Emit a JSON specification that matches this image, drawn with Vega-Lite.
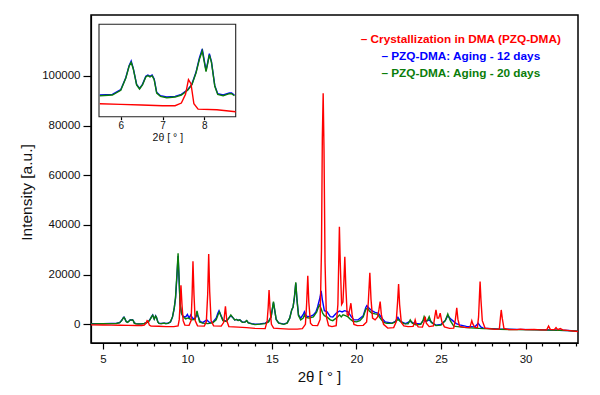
{
"$schema": "https://vega.github.io/schema/vega-lite/v6.json",
"width": 487, "height": 328,
"padding": {"left": 91, "top": 15, "right": 22, "bottom": 52},
"autosize": {"type": "none"},
"background": "white",
"config": {"view": {"stroke": "#000", "strokeWidth": 1.5}, "font": "Liberation Sans",
  "axis": {"grid": false, "domainColor": "#000", "tickColor": "#000", "labelColor": "#111", "titleColor": "#111", "titleFontWeight": "normal", "domainWidth": 1.2, "tickWidth": 1.2}},
"datasets": {"xrd": [
{"s":"r","x":4.3,"y":-200},{"s":"r","x":5.0,"y":-250},{"s":"r","x":5.5,"y":-300},{"s":"r","x":6.0,"y":-350},{"s":"r","x":6.5,"y":-400},{"s":"r","x":7.0,"y":-450},{"s":"r","x":7.3,"y":-450},{"s":"r","x":7.45,"y":-250},{"s":"r","x":7.55,"y":400},{"s":"r","x":7.62,"y":1500},{"s":"r","x":7.68,"y":1200},{"s":"r","x":7.75,"y":-300},{"s":"r","x":7.85,"y":-700},{"s":"r","x":8.3,"y":-750},{"s":"r","x":8.75,"y":-900},{"s":"r","x":9.2,"y":-900},{"s":"r","x":9.45,"y":-600},{"s":"r","x":9.52,"y":2000},{"s":"r","x":9.58,"y":10000},{"s":"r","x":9.62,"y":15700},{"s":"r","x":9.68,"y":8000},{"s":"r","x":9.75,"y":1500},{"s":"r","x":9.85,"y":-300},{"s":"r","x":10.1,"y":-400},{"s":"r","x":10.22,"y":1500},{"s":"r","x":10.28,"y":12000},{"s":"r","x":10.33,"y":25400},{"s":"r","x":10.39,"y":12000},{"s":"r","x":10.46,"y":1500},{"s":"r","x":10.6,"y":-600},{"s":"r","x":11.0,"y":-700},{"s":"r","x":11.12,"y":1000},{"s":"r","x":11.2,"y":12000},{"s":"r","x":11.26,"y":28300},{"s":"r","x":11.32,"y":13000},{"s":"r","x":11.4,"y":1500},{"s":"r","x":11.55,"y":-600},{"s":"r","x":12.0,"y":-700},{"s":"r","x":12.15,"y":800},{"s":"r","x":12.25,"y":7300},{"s":"r","x":12.33,"y":1500},{"s":"r","x":12.45,"y":-900},{"s":"r","x":13.0,"y":-1100},{"s":"r","x":13.5,"y":-1300},{"s":"r","x":14.0,"y":-1600},{"s":"r","x":14.6,"y":-1700},{"s":"r","x":14.72,"y":1500},{"s":"r","x":14.78,"y":7000},{"s":"r","x":14.83,"y":13850},{"s":"r","x":14.89,"y":6000},{"s":"r","x":14.97,"y":0},{"s":"r","x":15.1,"y":-1500},{"s":"r","x":15.5,"y":-1700},{"s":"r","x":16.0,"y":-1900},{"s":"r","x":16.5,"y":-1900},{"s":"r","x":16.8,"y":-1700},{"s":"r","x":16.98,"y":0},{"s":"r","x":17.05,"y":8000},{"s":"r","x":17.12,"y":19600},{"s":"r","x":17.18,"y":9000},{"s":"r","x":17.28,"y":500},{"s":"r","x":17.4,"y":-400},{"s":"r","x":17.7,"y":-500},{"s":"r","x":17.85,"y":2000},{"s":"r","x":17.93,"y":30000},{"s":"r","x":17.98,"y":75000},{"s":"r","x":18.03,"y":93000},{"s":"r","x":18.08,"y":70000},{"s":"r","x":18.14,"y":25000},{"s":"r","x":18.22,"y":3000},{"s":"r","x":18.35,"y":-500},{"s":"r","x":18.55,"y":-900},{"s":"r","x":18.8,"y":-500},{"s":"r","x":18.9,"y":8000},{"s":"r","x":18.95,"y":25000},{"s":"r","x":18.99,"y":39300},{"s":"r","x":19.04,"y":25000},{"s":"r","x":19.12,"y":8000},{"s":"r","x":19.2,"y":9000},{"s":"r","x":19.26,"y":18000},{"s":"r","x":19.31,"y":27250},{"s":"r","x":19.37,"y":15000},{"s":"r","x":19.45,"y":4000},{"s":"r","x":19.52,"y":3500},{"s":"r","x":19.6,"y":6000},{"s":"r","x":19.67,"y":8500},{"s":"r","x":19.74,"y":4000},{"s":"r","x":19.85,"y":0},{"s":"r","x":20.05,"y":-500},{"s":"r","x":20.4,"y":-400},{"s":"r","x":20.6,"y":1000},{"s":"r","x":20.7,"y":9000},{"s":"r","x":20.79,"y":20800},{"s":"r","x":20.86,"y":10000},{"s":"r","x":20.95,"y":2500},{"s":"r","x":21.1,"y":1800},{"s":"r","x":21.25,"y":3000},{"s":"r","x":21.33,"y":6000},{"s":"r","x":21.4,"y":9150},{"s":"r","x":21.47,"y":4000},{"s":"r","x":21.6,"y":0},{"s":"r","x":21.85,"y":-1500},{"s":"r","x":22.2,"y":-1300},{"s":"r","x":22.35,"y":1000},{"s":"r","x":22.43,"y":9000},{"s":"r","x":22.49,"y":16200},{"s":"r","x":22.55,"y":8000},{"s":"r","x":22.65,"y":800},{"s":"r","x":22.8,"y":-600},{"s":"r","x":23.05,"y":-900},{"s":"r","x":23.35,"y":-800},{"s":"r","x":23.42,"y":500},{"s":"r","x":23.47,"y":1770},{"s":"r","x":23.53,"y":300},{"s":"r","x":23.65,"y":-1000},{"s":"r","x":23.9,"y":-1100},{"s":"r","x":24.0,"y":1000},{"s":"r","x":24.06,"y":3100},{"s":"r","x":24.13,"y":500},{"s":"r","x":24.3,"y":-900},{"s":"r","x":24.55,"y":-600},{"s":"r","x":24.63,"y":3000},{"s":"r","x":24.7,"y":5800},{"s":"r","x":24.78,"y":2500},{"s":"r","x":24.86,"y":2500},{"s":"r","x":24.95,"y":4470},{"s":"r","x":25.05,"y":1000},{"s":"r","x":25.2,"y":-1000},{"s":"r","x":25.5,"y":-1600},{"s":"r","x":25.75,"y":-1500},{"s":"r","x":25.85,"y":2000},{"s":"r","x":25.93,"y":6700},{"s":"r","x":26.0,"y":2000},{"s":"r","x":26.1,"y":-800},{"s":"r","x":26.4,"y":-1200},{"s":"r","x":26.7,"y":-1300},{"s":"r","x":26.78,"y":500},{"s":"r","x":26.82,"y":1500},{"s":"r","x":26.88,"y":200},{"s":"r","x":27.0,"y":-1200},{"s":"r","x":27.15,"y":-1300},{"s":"r","x":27.22,"y":3000},{"s":"r","x":27.27,"y":11000},{"s":"r","x":27.31,"y":17200},{"s":"r","x":27.36,"y":10000},{"s":"r","x":27.44,"y":1500},{"s":"r","x":27.6,"y":-1500},{"s":"r","x":28.2,"y":-2000},{"s":"r","x":28.45,"y":-1800},{"s":"r","x":28.51,"y":2500},{"s":"r","x":28.56,"y":5800},{"s":"r","x":28.62,"y":2500},{"s":"r","x":28.72,"y":-1600},{"s":"r","x":29.0,"y":-2100},{"s":"r","x":29.5,"y":-2100},{"s":"r","x":29.7,"y":-1900},{"s":"r","x":30.0,"y":-2100},{"s":"r","x":30.5,"y":-2000},{"s":"r","x":30.9,"y":-2200},{"s":"r","x":31.25,"y":-2200},{"s":"r","x":31.36,"y":-650},{"s":"r","x":31.46,"y":-2000},{"s":"r","x":31.7,"y":-2100},{"s":"r","x":31.8,"y":-1300},{"s":"r","x":31.9,"y":-2100},{"s":"r","x":32.05,"y":-1700},{"s":"r","x":32.2,"y":-2200},{"s":"r","x":32.6,"y":-2500},{"s":"r","x":33.1,"y":-2900},
{"s":"g","x":4.3,"y":200},{"s":"g","x":5.0,"y":250},{"s":"g","x":5.5,"y":300},{"s":"g","x":5.8,"y":350},{"s":"g","x":6.0,"y":700},{"s":"g","x":6.12,"y":1600},{"s":"g","x":6.2,"y":2500},{"s":"g","x":6.25,"y":2800},{"s":"g","x":6.3,"y":2300},{"s":"g","x":6.38,"y":1100},{"s":"g","x":6.45,"y":800},{"s":"g","x":6.52,"y":1100},{"s":"g","x":6.6,"y":1700},{"s":"g","x":6.65,"y":1800},{"s":"g","x":6.7,"y":1700},{"s":"g","x":6.75,"y":1800},{"s":"g","x":6.8,"y":1500},{"s":"g","x":6.86,"y":500},{"s":"g","x":6.95,"y":250},{"s":"g","x":7.1,"y":150},{"s":"g","x":7.3,"y":200},{"s":"g","x":7.45,"y":350},{"s":"g","x":7.6,"y":700},{"s":"g","x":7.7,"y":1100},{"s":"g","x":7.8,"y":2000},{"s":"g","x":7.88,"y":3000},{"s":"g","x":7.95,"y":3650},{"s":"g","x":8.0,"y":2800},{"s":"g","x":8.04,"y":2100},{"s":"g","x":8.08,"y":2700},{"s":"g","x":8.12,"y":3350},{"s":"g","x":8.17,"y":2800},{"s":"g","x":8.25,"y":1000},{"s":"g","x":8.32,"y":400},{"s":"g","x":8.45,"y":300},{"s":"g","x":8.6,"y":450},{"s":"g","x":8.65,"y":450},{"s":"g","x":8.72,"y":300},{"s":"g","x":8.85,"y":400},{"s":"g","x":9.0,"y":1000},{"s":"g","x":9.12,"y":3000},{"s":"g","x":9.22,"y":6500},{"s":"g","x":9.3,"y":11000},{"s":"g","x":9.38,"y":20000},{"s":"g","x":9.45,"y":28600},{"s":"g","x":9.5,"y":20000},{"s":"g","x":9.57,"y":8000},{"s":"g","x":9.65,"y":4500},{"s":"g","x":9.75,"y":3000},{"s":"g","x":9.9,"y":2200},{"s":"g","x":10.05,"y":2600},{"s":"g","x":10.25,"y":1800},{"s":"g","x":10.45,"y":2000},{"s":"g","x":10.52,"y":4000},{"s":"g","x":10.57,"y":5400},{"s":"g","x":10.63,"y":3500},{"s":"g","x":10.72,"y":1000},{"s":"g","x":10.9,"y":500},{"s":"g","x":11.2,"y":300},{"s":"g","x":11.5,"y":600},{"s":"g","x":11.7,"y":1800},{"s":"g","x":11.82,"y":4000},{"s":"g","x":11.9,"y":5000},{"s":"g","x":11.98,"y":3500},{"s":"g","x":12.1,"y":1500},{"s":"g","x":12.3,"y":1200},{"s":"g","x":12.45,"y":2500},{"s":"g","x":12.57,"y":3800},{"s":"g","x":12.68,"y":2800},{"s":"g","x":12.8,"y":1800},{"s":"g","x":12.9,"y":2000},{"s":"g","x":13.0,"y":1600},{"s":"g","x":13.1,"y":1800},{"s":"g","x":13.25,"y":800},{"s":"g","x":13.4,"y":900},{"s":"g","x":13.51,"y":1500},{"s":"g","x":13.6,"y":600},{"s":"g","x":13.8,"y":200},{"s":"g","x":14.0,"y":-100},{"s":"g","x":14.3,"y":100},{"s":"g","x":14.6,"y":300},{"s":"g","x":14.8,"y":1000},{"s":"g","x":14.95,"y":3000},{"s":"g","x":15.02,"y":6000},{"s":"g","x":15.09,"y":9150},{"s":"g","x":15.16,"y":6000},{"s":"g","x":15.25,"y":2000},{"s":"g","x":15.4,"y":500},{"s":"g","x":15.7,"y":0},{"s":"g","x":15.9,"y":500},{"s":"g","x":16.05,"y":2500},{"s":"g","x":16.17,"y":5800},{"s":"g","x":16.25,"y":7000},{"s":"g","x":16.33,"y":11000},{"s":"g","x":16.41,"y":16900},{"s":"g","x":16.48,"y":10000},{"s":"g","x":16.57,"y":3500},{"s":"g","x":16.7,"y":1800},{"s":"g","x":16.85,"y":2500},{"s":"g","x":16.92,"y":3800},{"s":"g","x":17.0,"y":2800},{"s":"g","x":17.2,"y":2500},{"s":"g","x":17.45,"y":3000},{"s":"g","x":17.65,"y":5000},{"s":"g","x":17.75,"y":7000},{"s":"g","x":17.81,"y":7800},{"s":"g","x":17.9,"y":6500},{"s":"g","x":18.0,"y":4500},{"s":"g","x":18.1,"y":3500},{"s":"g","x":18.25,"y":3000},{"s":"g","x":18.45,"y":1800},{"s":"g","x":18.6,"y":1500},{"s":"g","x":18.8,"y":2500},{"s":"g","x":19.0,"y":3800},{"s":"g","x":19.1,"y":3000},{"s":"g","x":19.2,"y":3800},{"s":"g","x":19.35,"y":3500},{"s":"g","x":19.5,"y":3000},{"s":"g","x":19.65,"y":2000},{"s":"g","x":19.8,"y":1200},{"s":"g","x":20.0,"y":1000},{"s":"g","x":20.2,"y":1500},{"s":"g","x":20.4,"y":3000},{"s":"g","x":20.55,"y":6000},{"s":"g","x":20.65,"y":6600},{"s":"g","x":20.75,"y":5500},{"s":"g","x":20.9,"y":4500},{"s":"g","x":21.1,"y":4200},{"s":"g","x":21.25,"y":4000},{"s":"g","x":21.4,"y":2500},{"s":"g","x":21.6,"y":800},{"s":"g","x":21.8,"y":400},{"s":"g","x":22.1,"y":400},{"s":"g","x":22.3,"y":1000},{"s":"g","x":22.45,"y":2000},{"s":"g","x":22.6,"y":1200},{"s":"g","x":22.8,"y":300},{"s":"g","x":23.05,"y":200},{"s":"g","x":23.18,"y":1770},{"s":"g","x":23.3,"y":500},{"s":"g","x":23.5,"y":-200},{"s":"g","x":23.8,"y":0},{"s":"g","x":23.93,"y":1500},{"s":"g","x":24.0,"y":3100},{"s":"g","x":24.1,"y":1500},{"s":"g","x":24.2,"y":1500},{"s":"g","x":24.3,"y":3100},{"s":"g","x":24.42,"y":800},{"s":"g","x":24.7,"y":-500},{"s":"g","x":25.0,"y":-300},{"s":"g","x":25.25,"y":1500},{"s":"g","x":25.4,"y":4200},{"s":"g","x":25.55,"y":1500},{"s":"g","x":25.75,"y":-700},{"s":"g","x":26.1,"y":-1000},{"s":"g","x":26.5,"y":-1300},{"s":"g","x":27.0,"y":-1500},{"s":"g","x":27.5,"y":-1700},{"s":"g","x":28.0,"y":-1800},{"s":"g","x":28.5,"y":-2000},{"s":"g","x":29.5,"y":-2100},{"s":"g","x":30.5,"y":-2200},{"s":"g","x":31.5,"y":-2300},{"s":"g","x":32.5,"y":-2500},{"s":"g","x":33.1,"y":-2800},
{"s":"b","x":4.3,"y":250},{"s":"b","x":5.0,"y":300},{"s":"b","x":5.5,"y":350},{"s":"b","x":5.8,"y":400},{"s":"b","x":6.0,"y":750},{"s":"b","x":6.12,"y":1650},{"s":"b","x":6.2,"y":2550},{"s":"b","x":6.25,"y":2900},{"s":"b","x":6.3,"y":2350},{"s":"b","x":6.38,"y":1150},{"s":"b","x":6.45,"y":850},{"s":"b","x":6.52,"y":1150},{"s":"b","x":6.6,"y":1750},{"s":"b","x":6.65,"y":1850},{"s":"b","x":6.7,"y":1750},{"s":"b","x":6.75,"y":1850},{"s":"b","x":6.8,"y":1550},{"s":"b","x":6.86,"y":550},{"s":"b","x":6.95,"y":300},{"s":"b","x":7.1,"y":200},{"s":"b","x":7.3,"y":250},{"s":"b","x":7.45,"y":400},{"s":"b","x":7.6,"y":750},{"s":"b","x":7.7,"y":1150},{"s":"b","x":7.8,"y":2050},{"s":"b","x":7.88,"y":3100},{"s":"b","x":7.95,"y":3800},{"s":"b","x":8.0,"y":2900},{"s":"b","x":8.04,"y":2200},{"s":"b","x":8.08,"y":2800},{"s":"b","x":8.12,"y":3450},{"s":"b","x":8.17,"y":2850},{"s":"b","x":8.25,"y":1050},{"s":"b","x":8.32,"y":450},{"s":"b","x":8.45,"y":350},{"s":"b","x":8.6,"y":500},{"s":"b","x":8.65,"y":500},{"s":"b","x":8.72,"y":350},{"s":"b","x":8.85,"y":450},{"s":"b","x":9.0,"y":1000},{"s":"b","x":9.12,"y":3000},{"s":"b","x":9.22,"y":6300},{"s":"b","x":9.3,"y":10500},{"s":"b","x":9.38,"y":19000},{"s":"b","x":9.45,"y":27500},{"s":"b","x":9.5,"y":19500},{"s":"b","x":9.57,"y":8000},{"s":"b","x":9.65,"y":4500},{"s":"b","x":9.75,"y":3200},{"s":"b","x":9.9,"y":3000},{"s":"b","x":10.0,"y":4000},{"s":"b","x":10.1,"y":2500},{"s":"b","x":10.2,"y":3800},{"s":"b","x":10.3,"y":2500},{"s":"b","x":10.45,"y":2300},{"s":"b","x":10.57,"y":4000},{"s":"b","x":10.65,"y":3000},{"s":"b","x":10.75,"y":1200},{"s":"b","x":10.9,"y":700},{"s":"b","x":11.15,"y":1800},{"s":"b","x":11.3,"y":800},{"s":"b","x":11.5,"y":900},{"s":"b","x":11.7,"y":2500},{"s":"b","x":11.8,"y":4500},{"s":"b","x":11.87,"y":5500},{"s":"b","x":11.95,"y":4200},{"s":"b","x":12.1,"y":1800},{"s":"b","x":12.3,"y":1300},{"s":"b","x":12.45,"y":2500},{"s":"b","x":12.57,"y":3500},{"s":"b","x":12.68,"y":2800},{"s":"b","x":12.8,"y":1800},{"s":"b","x":12.9,"y":2000},{"s":"b","x":13.0,"y":1600},{"s":"b","x":13.1,"y":1800},{"s":"b","x":13.25,"y":900},{"s":"b","x":13.4,"y":900},{"s":"b","x":13.51,"y":1500},{"s":"b","x":13.6,"y":700},{"s":"b","x":13.8,"y":300},{"s":"b","x":14.0,"y":100},{"s":"b","x":14.3,"y":200},{"s":"b","x":14.6,"y":500},{"s":"b","x":14.8,"y":1200},{"s":"b","x":14.95,"y":3000},{"s":"b","x":15.02,"y":6000},{"s":"b","x":15.09,"y":8800},{"s":"b","x":15.16,"y":5800},{"s":"b","x":15.25,"y":2000},{"s":"b","x":15.4,"y":600},{"s":"b","x":15.7,"y":100},{"s":"b","x":15.9,"y":600},{"s":"b","x":16.05,"y":2500},{"s":"b","x":16.17,"y":5800},{"s":"b","x":16.25,"y":7000},{"s":"b","x":16.33,"y":10800},{"s":"b","x":16.41,"y":16500},{"s":"b","x":16.48,"y":10000},{"s":"b","x":16.57,"y":3800},{"s":"b","x":16.7,"y":2500},{"s":"b","x":16.85,"y":4000},{"s":"b","x":16.92,"y":5100},{"s":"b","x":17.0,"y":3800},{"s":"b","x":17.1,"y":3100},{"s":"b","x":17.3,"y":3300},{"s":"b","x":17.45,"y":3800},{"s":"b","x":17.6,"y":5000},{"s":"b","x":17.7,"y":7000},{"s":"b","x":17.85,"y":11000},{"s":"b","x":17.91,"y":13450},{"s":"b","x":17.98,"y":10000},{"s":"b","x":18.1,"y":5500},{"s":"b","x":18.25,"y":5100},{"s":"b","x":18.45,"y":3100},{"s":"b","x":18.6,"y":3000},{"s":"b","x":18.8,"y":4500},{"s":"b","x":19.0,"y":5400},{"s":"b","x":19.15,"y":5000},{"s":"b","x":19.3,"y":5500},{"s":"b","x":19.5,"y":5000},{"s":"b","x":19.7,"y":3000},{"s":"b","x":19.85,"y":1800},{"s":"b","x":20.1,"y":1800},{"s":"b","x":20.4,"y":3500},{"s":"b","x":20.55,"y":6800},{"s":"b","x":20.61,"y":7500},{"s":"b","x":20.75,"y":6500},{"s":"b","x":20.9,"y":5500},{"s":"b","x":21.1,"y":4800},{"s":"b","x":21.3,"y":4470},{"s":"b","x":21.5,"y":2500},{"s":"b","x":21.7,"y":1000},{"s":"b","x":22.1,"y":500},{"s":"b","x":22.3,"y":1200},{"s":"b","x":22.45,"y":2860},{"s":"b","x":22.6,"y":1200},{"s":"b","x":22.9,"y":300},{"s":"b","x":23.18,"y":1200},{"s":"b","x":23.4,"y":400},{"s":"b","x":23.8,"y":200},{"s":"b","x":24.0,"y":2000},{"s":"b","x":24.1,"y":1200},{"s":"b","x":24.3,"y":1800},{"s":"b","x":24.5,"y":500},{"s":"b","x":24.7,"y":-300},{"s":"b","x":25.0,"y":0},{"s":"b","x":25.25,"y":1500},{"s":"b","x":25.4,"y":3500},{"s":"b","x":25.6,"y":2000},{"s":"b","x":25.9,"y":300},{"s":"b","x":26.1,"y":-200},{"s":"b","x":26.5,"y":-800},{"s":"b","x":27.0,"y":-1000},{"s":"b","x":27.2,"y":440},{"s":"b","x":27.35,"y":-1000},{"s":"b","x":27.5,"y":-1500},{"s":"b","x":28.0,"y":-1700},{"s":"b","x":28.5,"y":-1900},{"s":"b","x":29.5,"y":-2000},{"s":"b","x":30.5,"y":-2100},{"s":"b","x":31.5,"y":-2250},{"s":"b","x":32.5,"y":-2450},{"s":"b","x":33.1,"y":-2750}
]},
"data": {"name": "xrd"},
"layer": [
 {"layer": [
   {"transform": [{"filter": "datum.s === 'b'"}], "mark": {"type": "line", "strokeWidth": 1.4},
    "encoding": {"color": {"datum": "PZQ-DMA: Aging - 12 days"}}},
   {"transform": [{"filter": "datum.s === 'g'"}], "mark": {"type": "line", "strokeWidth": 1.4},
    "encoding": {"color": {"datum": "PZQ-DMA: Aging - 20 days"}}},
   {"transform": [{"filter": "datum.s === 'r'"}], "mark": {"type": "line", "strokeWidth": 1.4},
    "encoding": {"color": {"datum": "Crystallization in DMA (PZQ-DMA)", "scale": {"domain": ["Crystallization in DMA (PZQ-DMA)", "PZQ-DMA: Aging - 12 days", "PZQ-DMA: Aging - 20 days"], "range": ["#ff0000", "#0000ff", "#0a7d0a"]},
      "legend": {"orient": "none", "legendX": 358, "legendY": 18, "title": null, "symbolSize": 0, "symbolOpacity": 0, "symbolStrokeWidth": 0, "labelExpr": "'– ' + datum.label", "labelAlign": "center", "labelFont": "Liberation Sans", "labelFontWeight": "bold", "labelFontSize": 11.8, "labelOffset": 0, "rowPadding": 4, "labelLimit": 400,
        "encode": {"labels": {"update": {"fill": {"scale": "color", "field": "value"}}}}}}}}
  ],
  "encoding": {
   "x": {"field": "x", "type": "quantitative", "scale": {"domain": [4.3, 33.1], "nice": false, "zero": false},
     "axis": {"title": "2θ [ ° ]", "values": [5,6,7,8,9,10,11,12,13,14,15,16,17,18,19,20,21,22,23,24,25,26,27,28,29,30,31,32,33],
       "labelExpr": "datum.value % 5 === 0 ? datum.label : ''", "tickSize": {"condition": {"test": "datum.value % 5 === 0", "value": 6}, "value": 3},
       "labelFontSize": 11.5, "labelPadding": 4, "labelFlush": false, "labelOverlap": false, "titleFontSize": 15, "titleX": 228, "titleY": 33, "titleBaseline": "middle"}},
   "y": {"field": "y", "type": "quantitative", "scale": {"domain": [-7500, 124500], "nice": false, "zero": false},
     "axis": {"title": "Intensity [a.u.]", "values": [0, 20000, 40000, 60000, 80000, 100000], "format": "d", "tickSize": 8, "labelPadding": 3, "labelFontSize": 11.5, "titleFontSize": 15.5, "titleX": -65, "titleY": 177, "titleBaseline": "middle", "titleAlign": "center", "titleAngle": -90}}
  }
 },
 {"layer": [
   {"data": {"values": [{}]}, "mark": {"type": "rect", "fill": "white", "stroke": "#222", "strokeWidth": 1.1},
    "encoding": {"x": {"datum": 5.48, "type": "quantitative"}, "x2": {"datum": 8.75}, "y": {"datum": -1270, "type": "quantitative"}, "y2": {"datum": 5640}}},
   {"transform": [{"filter": "datum.s === 'b' && datum.x >= 5.48 && datum.x <= 8.75"}], "mark": {"type": "line", "strokeWidth": 1.4},
    "encoding": {"x": {"field": "x", "type": "quantitative"}, "y": {"field": "y", "type": "quantitative"}, "color": {"datum": "PZQ-DMA: Aging - 12 days"}}},
   {"transform": [{"filter": "datum.s === 'g' && datum.x >= 5.48 && datum.x <= 8.75"}], "mark": {"type": "line", "strokeWidth": 1.4},
    "encoding": {"x": {"field": "x", "type": "quantitative"}, "y": {"field": "y", "type": "quantitative"}, "color": {"datum": "PZQ-DMA: Aging - 20 days"}}},
   {"transform": [{"filter": "datum.s === 'r' && datum.x >= 5.48 && datum.x <= 8.75"}], "mark": {"type": "line", "strokeWidth": 1.4},
    "encoding": {"x": {"field": "x", "type": "quantitative"}, "y": {"field": "y", "type": "quantitative"}, "color": {"datum": "Crystallization in DMA (PZQ-DMA)"}}}
  ],
  "encoding": {
   "x": {"type": "quantitative", "scale": {"domain": [5.48, 8.75], "range": [8, 144.7], "nice": false, "zero": false},
     "axis": {"orient": "bottom", "offset": -226.3, "values": [6, 7, 8], "title": "2θ [ ° ]", "titleFontSize": 10.5, "labelFontSize": 10, "tickSize": 3, "labelPadding": 1, "domain": false, "titleY": 21, "titleBaseline": "middle"}},
   "y": {"type": "quantitative", "scale": {"domain": [-1270, 5640], "range": [101.7, 9.3], "nice": false, "zero": false}, "axis": null}
  }
 }
],
"resolve": {"scale": {"x": "independent", "y": "independent"}}
}
